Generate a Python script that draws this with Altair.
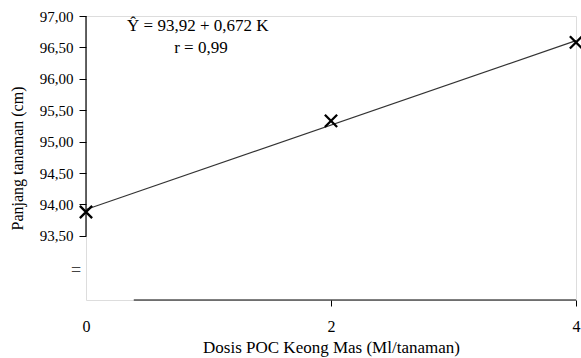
import altair as alt
import pandas as pd

# Data
dose = [0, 2, 4]
length = [93.88, 95.33, 96.58]

# Regression line Y = 93.92 + 0.672 K
reg_x = [0, 4]
reg_y = [93.92, 93.92 + 0.672 * 4]

y_ticks = [93.5, 94.0, 94.5, 95.0, 95.5, 96.0, 96.5, 97.0]
x_ticks = [0, 2, 4]
y_domain = [92.48, 97.0]
x_axis_start = 0.39  # broken x-axis line starts here

eq_text = ["Ŷ = 93,92 + 0,672 K", "r =  0,99"]
eq_x = [0.335, 0.72]
eq_y = [96.84, 96.49]

FONT = "Liberation Serif"

pts = pd.DataFrame({"x": dose, "y": length})
reg = pd.DataFrame({"x": reg_x, "y": reg_y})
ann = pd.DataFrame({"t": eq_text, "x": eq_x, "y": eq_y})
yline = pd.DataFrame({"x": [0], "y": [y_ticks[0]], "y2": [y_ticks[-1]]})
xline = pd.DataFrame({"x": [x_axis_start], "x2": [x_ticks[-1]], "y": [y_domain[0]]})

xscale = alt.Scale(domain=[0, 4], nice=False, zero=False)
yscale = alt.Scale(domain=y_domain, nice=False, zero=False)

xaxis = alt.Axis(
    values=x_ticks, domain=False, grid=False, tickSize=6, tickColor="black",
    tickOpacity={"condition": {"test": "datum.value === 0", "value": 0}, "value": 1},
    format="d",
    labelFont=FONT, labelFontSize=16, labelColor="black", labelPadding=12,
    title="Dosis POC Keong Mas (Ml/tanaman)", titleFont=FONT, titleFontSize=17,
    titleFontWeight="normal", titleColor="black", titlePadding=5, labelFlush=False,
)
yaxis = alt.Axis(
    values=y_ticks, domain=False, grid=False, tickSize=7, tickColor="black",
    labelFont=FONT, labelFontSize=15, labelColor="black", labelPadding=6,
    labelExpr="replace(format(datum.value, '.2f'), '.', ',')",
    title="Panjang tanaman (cm)", titleFont=FONT, titleFontSize=16,
    titleFontWeight="normal", titleColor="black", titlePadding=14,
)

line = alt.Chart(reg).mark_line(color="#333333", strokeWidth=1.1).encode(
    x=alt.X("x:Q", scale=xscale, axis=xaxis),
    y=alt.Y("y:Q", scale=yscale, axis=yaxis),
)
marks = alt.Chart(pts).mark_point(
    shape="M-1,-1L1,1M-1,1L1,-1", size=150, strokeWidth=2.3, color="black", filled=False, opacity=1
).encode(x="x:Q", y="y:Q")

yrule = alt.Chart(yline).mark_rule(color="black", strokeWidth=1.2).encode(
    x="x:Q", y="y:Q", y2="y2:Q"
)
xrule = alt.Chart(xline).mark_rule(color="black", strokeWidth=1.2).encode(
    x="x:Q", x2="x2:Q", y="y:Q"
)
text = alt.Chart(ann).mark_text(
    font=FONT, fontSize=17, align="left", baseline="middle", color="black"
).encode(x="x:Q", y="y:Q", text="t:N")

brk = alt.Chart(pd.DataFrame({"t": ["="]})).mark_text(
    font=FONT, fontSize=18, color="#444444"
).encode(x=alt.value(-10), y=alt.value(255), text="t:N")

chart = alt.layer(yrule, xrule, line, marks, text, brk).properties(
    width=490, height=284,
    autosize=alt.AutoSizeParams(type="none"),
    padding={"left": 86, "top": 16, "right": 5, "bottom": 58},
).configure_view(stroke=None).configure(background="white")

chart.save("out.html", embed_options={"renderer": "svg", "actions": False})
